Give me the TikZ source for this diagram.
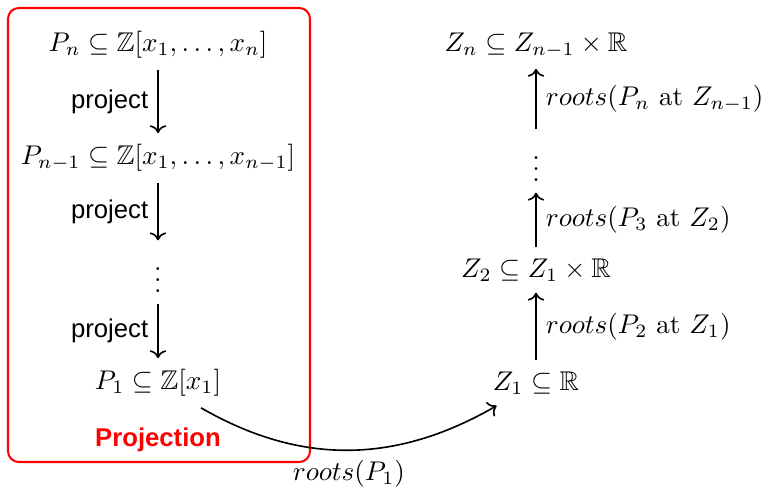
\documentclass[tikz,border=0pt]{standalone}
\usepackage{amsmath,amssymb}
\usepackage{fontspec}
\setsansfont{Liberation Sans}
\usetikzlibrary{positioning,arrows.meta,calc}
\definecolor{frame}{HTML}{FF0000}
\tikzset{
  term/.style={inner xsep=2pt,inner ysep=4pt},
  gap/.style={inner xsep=2pt,inner ysep=4pt},
  tag/.style={font=\sffamily\fontsize{9.5}{11}\selectfont},
  map/.style={->,semithick},
}
\begin{document}
\begin{tikzpicture}[x=0.013cm,y=-0.013cm]
  \useasboundingbox (0,0) rectangle (761,488);
  % projection phase
  \draw[frame,line width=0.75pt,rounded corners=4pt] (8,8) rectangle (310,462);
  \node[term] (pn) at (158,45) {$P_n \subseteq \mathbb{Z}[x_1,\ldots,x_n]$};
  \node[term] (pm) at (158,158) {$P_{n-1} \subseteq \mathbb{Z}[x_1,\ldots,x_{n-1}]$};
  \node[gap] (ld) at (158,272) {$\vdots$};
  \node[term] (p1) at (158,383) {$P_1 \subseteq \mathbb{Z}[x_1]$};
  \node[tag,font=\sffamily\bfseries\fontsize{9.5}{11}\selectfont,text=frame] (proj) at (158,440) {Projection};
  \draw[map] (pn) -- node[left,tag] {project} (pm);
  \draw[map] (pm) -- node[left,tag] {project} (ld);
  \draw[map] (ld) -- node[left,tag] {project} (p1);
  % lifting phase
  \node[term] (zn) at (536,45) {$Z_n \subseteq Z_{n-1} \times \mathbb{R}$};
  \node[gap] (rd) at (536,161) {$\vdots$};
  \node[term] (z2) at (536,270) {$Z_2 \subseteq Z_1 \times \mathbb{R}$};
  \node[term] (z1) at (536,383) {$Z_1 \subseteq \mathbb{R}$};
  \draw[map] (rd) -- node[right] {$roots(P_n \text{ at } Z_{n-1})$} (zn);
  \draw[map] (z2) -- node[right] {$roots(P_3 \text{ at } Z_2)$} (rd);
  \draw[map] (z1) -- node[right] {$roots(P_2 \text{ at } Z_1)$} (z2);
  \draw[map] (p1.-30) to[out=-30,in=210] node[below] {$roots(P_1)$} (z1.210);
\end{tikzpicture}
\end{document}
